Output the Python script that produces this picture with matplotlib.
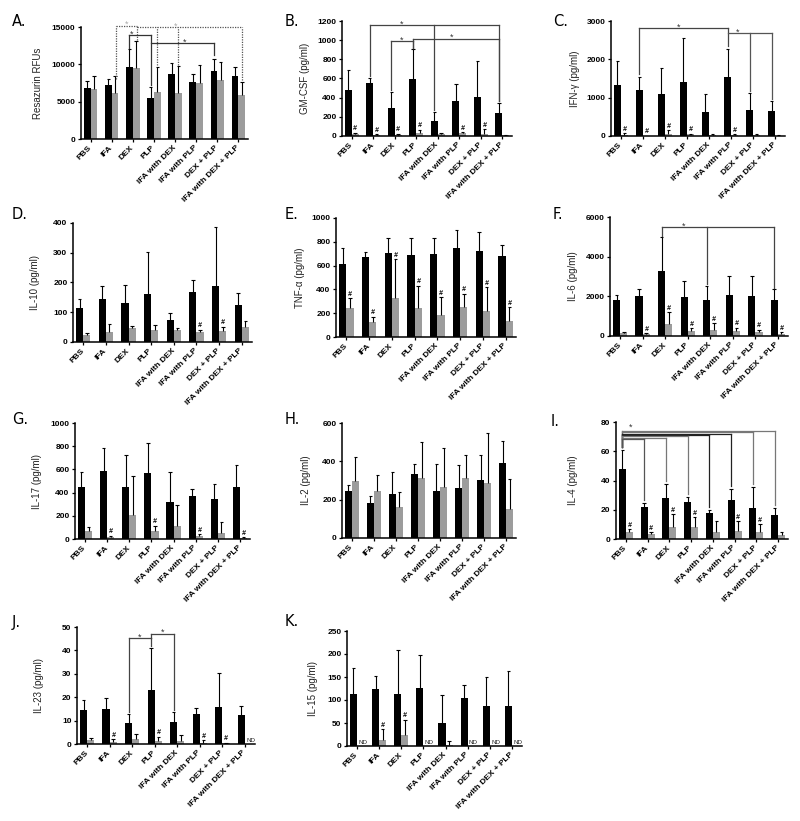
import numpy as np
import matplotlib.pyplot as plt

plt.rcParams['font.family'] = ['Liberation Sans', 'DejaVu Sans']

groups = ['PBS', 'IFA', 'DEX', 'PLP', 'IFA with DEX', 'IFA with PLP',
          'DEX + PLP', 'IFA with DEX + PLP']

# A. resazurin (black = first series, gray = second series, *_top = top of error bar)
rfu_black = [6800, 7200, 9600, 5550, 8650, 7650, 9050, 8400]
rfu_black_top = [7800, 8050, 12000, 6900, 10200, 8750, 10650, 9700]
rfu_gray = [6650, 6200, 9500, 6300, 6100, 7500, 7900, 5900]
rfu_gray_top = [8450, 8500, 13150, 9600, 9800, 9850, 10250, 7650]
rfu_hash = []

# B. GM-CSF
gm_black = [485, 555, 290, 590, 160, 370, 410, 235]
gm_black_top = [690, 600, 460, 905, 250, 540, 780, 345]
gm_gray = [25, 12, 15, 30, 20, 28, 25, 8]
gm_gray_top = [35, 20, 25, 65, 28, 40, 70, 12]
gm_hash = [0, 1, 2, 3, 5, 6]

# C. IFN-gamma
ifn_black = [1340, 1210, 1100, 1400, 620, 1530, 680, 660]
ifn_black_top = [1950, 1550, 1770, 2550, 1090, 2280, 1120, 910]
ifn_gray = [30, 5, 50, 40, 20, 30, 30, 10]
ifn_gray_top = [70, 10, 150, 60, 40, 40, 50, 15]
ifn_hash = [0, 1, 2, 3, 5]

# D. IL-10
il10_black = [115, 145, 130, 163, 75, 168, 188, 123]
il10_black_top = [145, 188, 190, 302, 96, 210, 387, 165]
il10_gray = [22, 35, 48, 40, 40, 35, 37, 50]
il10_gray_top = [30, 60, 55, 58, 48, 42, 52, 72]
il10_hash = [5, 6]

# E. TNF-alpha
tnf_black = [615, 675, 710, 685, 695, 745, 720, 680]
tnf_black_top = [748, 715, 830, 830, 830, 895, 885, 775]
tnf_gray = [240, 125, 330, 245, 185, 250, 220, 135]
tnf_gray_top = [325, 170, 655, 430, 335, 365, 420, 250]
tnf_hash = [0, 1, 2, 3, 4, 5, 6, 7]

# F. IL-6
il6_black = [1800, 2030, 3280, 1960, 1840, 2070, 2030, 1800]
il6_black_top = [2050, 2380, 4980, 2780, 2530, 3000, 3040, 2360]
il6_gray = [150, 100, 600, 230, 320, 230, 180, 100]
il6_gray_top = [180, 130, 1200, 380, 650, 420, 320, 200]
il6_hash = [1, 2, 3, 4, 5, 6, 7]

# G. IL-17
il17_black = [445, 585, 445, 565, 320, 375, 345, 450]
il17_black_top = [575, 785, 720, 830, 580, 430, 470, 640]
il17_gray = [65, 20, 210, 70, 115, 25, 55, 10]
il17_gray_top = [100, 30, 540, 115, 290, 40, 145, 15]
il17_hash = [1, 3, 5, 7]

# H. IL-2
il2_black = [245, 185, 230, 335, 245, 260, 305, 392]
il2_black_top = [278, 218, 343, 385, 387, 380, 435, 508]
il2_gray = [300, 245, 163, 312, 265, 312, 285, 153]
il2_gray_top = [422, 330, 240, 500, 470, 432, 548, 307]
il2_hash = []

# I. IL-4
il4_black = [48, 22, 28, 25, 17.5, 26.5, 21, 16.5]
il4_black_top = [61, 24.5, 37.5, 29, 20, 34.5, 35.5, 21.5]
il4_gray = [4.5, 3.5, 8, 8.5, 5, 5.5, 4.5, 3]
il4_gray_top = [6.5, 4.5, 17, 15, 12, 12, 10, 5]
il4_hash = [0, 1, 2, 3, 5, 6]

# J. IL-23 (None = not detected)
il23_black = [14.5, 14.8, 8.8, 23.2, 9.5, 12.8, 15.7, 12.2]
il23_black_top = [19, 19.5, 12.8, 41.2, 13.8, 15.5, 30.2, 16.3]
il23_gray = [1.5, 1.0, 2.2, 1.2, 1.2, 0.5, 0.3, None]
il23_gray_top = [2.5, 2.0, 4.2, 3.2, 3.8, 1.5, 0.5, None]
il23_hash = [1, 3, 5, 6]

# K. IL-15
il15_black = [112, 124, 113, 126, 51, 105, 88, 88]
il15_black_top = [170, 153, 208, 198, 111, 133, 150, 163]
il15_gray = [None, 12, 23, None, 3, None, None, None]
il15_gray_top = [None, 37, 57, None, 10, None, None, None]
il15_hash = [1, 2]

# significance brackets: (height, [(x, lower end)...], star x, line colour, style)
rfu_brackets = [
    (15200, [(1.2, 8000), (2.2, 13300)], 1.72, '#555555', ':'),
    (14950, [(2.2, 14950), (3.16, 9900), (4.16, 9900), (7.16, 7900)], 4.04, '#555555', ':'),
    (13880, [(1.84, 12150), (2.84, 7200)], 1.95, '#333333', '-'),
    (12800, [(2.84, 12800), (5.84, 11250)], 4.47, '#333333', '-'),
]
gm_brackets = [
    (1155, [(0.84, 625), (3.84, 270), (6.84, 360)], 2.34, '#444444', '-'),
    (990, [(1.84, 480), (2.84, 920)], 2.34, '#444444', '-'),
    (1015, [(2.84, 920), (6.84, 360)], 4.64, '#444444', '-'),
]
ifn_brackets = [
    (2820, [(0.84, 1620), (4.84, 2350)], 2.6, '#444444', '-'),
    (2690, [(4.84, 2690), (5.84, 1170), (6.84, 960)], 5.3, '#555555', '-'),
]
il6_brackets = [
    (5480, [(1.84, 5050), (3.84, 2600), (6.84, 2400)], 2.8, '#444444', '-'),
]
il4_brackets = [
    (73.6, [(-0.16, 63), (6.84, 23.5)], None, '#777777', '-'),
    (72.9, [(-0.16, 63), (5.84, 37.5)], None, '#777777', '-'),
    (72.0, [(-0.16, 63), (4.84, 36.5)], None, '#222222', '-'),
    (71.3, [(-0.16, 63), (3.84, 22)], None, '#222222', '-'),
    (70.2, [(-0.16, 63), (2.84, 31)], None, '#777777', '-'),
    (69.0, [(-0.16, 63), (1.84, 39.5)], None, '#777777', '-'),
    (68.3, [(-0.16, 63), (0.84, 26.5)], None, '#555555', '-'),
]
il4_star = (0.2, 76.5)
il23_brackets = [
    (45.3, [(1.84, 13.5), (2.84, 42)], 2.34, '#444444', '-'),
    (47.2, [(2.84, 45.3), (3.84, 14.5)], 3.34, '#444444', '-'),
]

W, H = 800, 821
fig = plt.figure(figsize=(W / 100, H / 100), dpi=100)


def draw_panel(letter, box, letter_pos, label_x, black, black_top, gray, gray_top,
               hashes, brackets, ymax, ystep, ylabel):
    x0, x1, y_top, y_bot = box
    ax = fig.add_axes([x0 / W, 1 - y_bot / H, (x1 - x0) / W, (y_bot - y_top) / H])
    x = np.arange(len(groups))
    bw = 0.32
    g = [0 if v is None else v for v in gray]
    ax.bar(x - bw / 2, black, bw, color='black', zorder=2)
    ax.bar(x + bw / 2, g, bw, color='#9c9c9c', zorder=2)
    for xs, vals, tops in ((x - bw / 2, black, black_top), (x + bw / 2, gray, gray_top)):
        for xi, v, t in zip(xs, vals, tops):
            if v is None:
                continue
            ax.vlines(xi, v, t, color='black', lw=0.8, zorder=3)
            ax.hlines(t, xi - 0.08, xi + 0.08, color='black', lw=0.8, zorder=3)
    for i in hashes:
        ax.annotate('#', (x[i] + bw / 2, gray_top[i]), xytext=(0, 0.3),
                    textcoords='offset points', ha='center', va='bottom',
                    fontsize=5, fontstyle='italic', fontweight='bold')
    for i, v in enumerate(gray):
        if v is None:
            ax.annotate('ND', (x[i] + bw / 2 + 0.1, 0), xytext=(0, 1),
                        textcoords='offset points', ha='center', va='bottom',
                        fontsize=4.5, color='#222222')
    for y, drops, star_x, color, ls in brackets:
        xs = [d[0] for d in drops]
        style = (0, (1, 1)) if ls == ':' else '-'
        ax.plot([min(xs), max(xs)], [y, y], color=color, ls=style, lw=0.9,
                clip_on=False, zorder=4)
        for xd, yd in drops:
            ax.plot([xd, xd], [yd, y], color=color, ls=style, lw=0.9,
                    clip_on=False, zorder=4)
        if star_x is not None:
            ax.annotate('*', (star_x, y), xytext=(0, -2.5), textcoords='offset points',
                        ha='center', va='bottom', fontsize=6.5,
                        color='#aaaaaa' if ls == ':' else '#333333',
                        annotation_clip=False)

    ax.set_xlim(-0.45, 7.45)
    ax.set_ylim(0, ymax)
    ticks = np.arange(0, ymax + ystep / 2, ystep)
    ax.set_yticks(ticks)
    ax.set_yticklabels([str(int(t)) for t in ticks], fontsize=6, fontweight='bold')
    ax.set_xticks(x)
    ax.set_xticklabels(groups, rotation=45, ha='right', va='center',
                       rotation_mode='anchor', fontsize=6, fontweight='bold')
    ax.tick_params(direction='out', length=2.5, width=0.9, pad=1.5)
    ax.tick_params(axis='x', pad=3)
    for side in ('top', 'right'):
        ax.spines[side].set_visible(False)
    for side in ('left', 'bottom'):
        ax.spines[side].set_linewidth(1.1)
    ax.set_ylabel(ylabel, fontsize=7, color='#222222')
    ax.yaxis.set_label_coords((label_x - x0) / (x1 - x0), 0.5)
    fig.text(letter_pos[0] / W, 1 - letter_pos[1] / H, letter, fontsize=10.5,
             family='DejaVu Sans', ha='left', va='center')
    return ax


draw_panel('A.', (81, 248, 27, 139), (12, 21), 43, rfu_black, rfu_black_top,
           rfu_gray, rfu_gray_top, rfu_hash, rfu_brackets, 15000, 5000, 'Resazurin RFUs')
draw_panel('B.', (342, 512, 21, 136), (285, 21), 310, gm_black, gm_black_top,
           gm_gray, gm_gray_top, gm_hash, gm_brackets, 1200, 200, 'GM-CSF (pg/ml)')
draw_panel('C.', (611, 785, 21, 136), (553, 21), 580, ifn_black, ifn_black_top,
           ifn_gray, ifn_gray_top, ifn_hash, ifn_brackets, 3000, 1000, 'IFN-\u03b3 (pg/ml)')
draw_panel('D.', (73, 252, 223, 342), (12, 214), 40, il10_black, il10_black_top,
           il10_gray, il10_gray_top, il10_hash, [], 400, 100, 'IL-10 (pg/ml)')
draw_panel('E.', (336, 516, 218, 337), (285, 214), 305, tnf_black, tnf_black_top,
           tnf_gray, tnf_gray_top, tnf_hash, [], 1000, 200, 'TNF-\u03b1 (pg/ml)')
draw_panel('F.', (610, 788, 217, 336), (553, 214), 578, il6_black, il6_black_top,
           il6_gray, il6_gray_top, il6_hash, il6_brackets, 6000, 2000, 'IL-6 (pg/ml)')
draw_panel('G.', (75, 250, 423, 539), (12, 419), 42, il17_black, il17_black_top,
           il17_gray, il17_gray_top, il17_hash, [], 1000, 200, 'IL-17 (pg/ml)')
draw_panel('H.', (342, 516, 423, 538), (285, 419), 311, il2_black, il2_black_top,
           il2_gray, il2_gray_top, il2_hash, [], 600, 200, 'IL-2 (pg/ml)')
ax_i = draw_panel('I.', (616, 788, 422, 539), (551, 421), 578, il4_black, il4_black_top,
                  il4_gray, il4_gray_top, il4_hash, il4_brackets, 80, 20, 'IL-4 (pg/ml)')
ax_i.annotate('*', il4_star, ha='center', va='center', fontsize=6.5, color='#333333',
              annotation_clip=False)
draw_panel('J.', (77, 255, 627, 744), (12, 622), 44, il23_black, il23_black_top,
           il23_gray, il23_gray_top, il23_hash, il23_brackets, 50, 10, 'IL-23 (pg/ml)')
draw_panel('K.', (347, 522, 631, 746), (285, 622), 318, il15_black, il15_black_top,
           il15_gray, il15_gray_top, il15_hash, [], 250, 50, 'IL-15 (pg/ml)')

fig.savefig('out.png', dpi=100)
